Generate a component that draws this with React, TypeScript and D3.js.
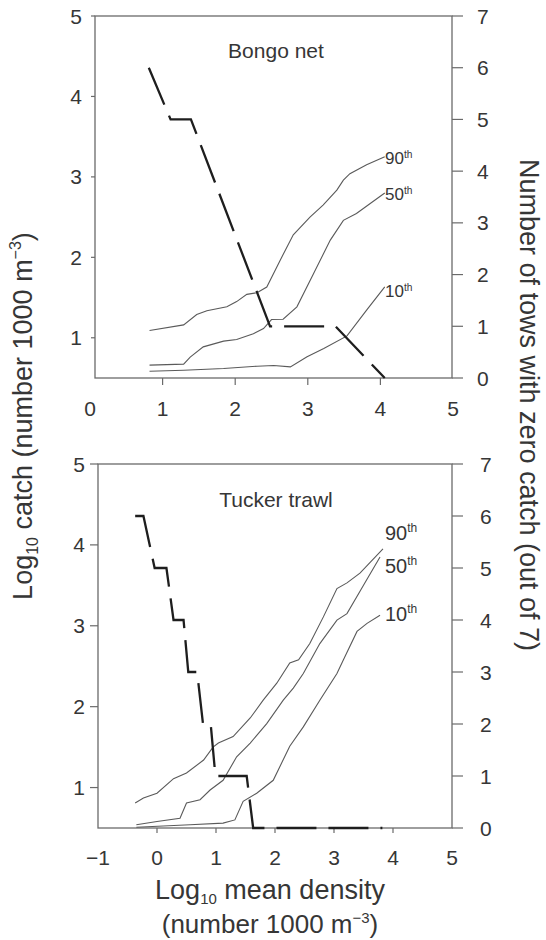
import React from "react";
import * as d3 from "d3";

// ---------- data ----------
// Bongo net panel: x = log10 mean density, y = log10 catch
const bongoP90: [number, number][] = [
  [0.82, 1.09], [1.29, 1.16], [1.47, 1.29], [1.61, 1.335], [1.885, 1.385], [2.02, 1.45],
  [2.16, 1.54], [2.3, 1.56], [2.435, 1.63], [2.62, 1.965], [2.8, 2.28], [3.03, 2.5],
  [3.21, 2.65], [3.4, 2.835], [3.49, 2.96], [3.58, 3.04], [3.81, 3.15], [4.06, 3.25],
];
const bongoP50: [number, number][] = [
  [0.82, 0.66], [1.29, 0.672], [1.38, 0.76], [1.56, 0.887], [1.84, 0.958], [2.02, 0.979],
  [2.25, 1.05], [2.39, 1.115], [2.5, 1.227], [2.66, 1.231], [2.85, 1.385], [3.08, 1.8],
  [3.31, 2.214], [3.49, 2.46], [3.67, 2.546], [3.86, 2.67], [4.06, 2.8],
];
const bongoP10: [number, number][] = [
  [0.82, 0.584], [1.29, 0.597], [1.84, 0.618], [2.3, 0.647], [2.53, 0.655], [2.76, 0.638],
  [2.99, 0.763], [3.22, 0.867], [3.54, 1.023], [3.81, 1.343], [4.06, 1.633],
];
// number of tows with zero catch (right axis)
const bongoZero: [number, number][] = [
  [0.81, 6], [1.11, 5], [1.39, 5], [2.48, 1], [3.38, 1], [4.06, 0],
];

// Tucker trawl panel
const tuckerP90: [number, number][] = [
  [-0.37, 0.81], [-0.23, 0.87], [0.0, 0.93], [0.28, 1.11], [0.5, 1.18], [0.79, 1.34],
  [0.95, 1.5], [1.04, 1.55], [1.29, 1.63], [1.58, 1.86], [1.8, 2.08], [2.03, 2.29],
  [2.25, 2.54], [2.4, 2.58], [2.59, 2.78], [2.82, 3.11], [3.05, 3.46], [3.22, 3.53],
  [3.44, 3.65], [3.83, 3.95],
];
const tuckerP50: [number, number][] = [
  [-0.35, 0.54], [0.0, 0.58], [0.39, 0.62], [0.5, 0.81], [0.73, 0.85], [0.9, 0.97],
  [1.12, 1.09], [1.35, 1.38], [1.58, 1.55], [1.86, 1.79], [2.14, 2.08], [2.31, 2.23],
  [2.48, 2.41], [2.76, 2.78], [3.05, 3.07], [3.22, 3.15], [3.5, 3.5], [3.78, 3.85],
];
const tuckerP10: [number, number][] = [
  [-0.35, 0.51], [0.56, 0.54], [1.12, 0.56], [1.32, 0.6], [1.46, 0.83], [1.69, 0.93],
  [1.97, 1.09], [2.25, 1.51], [2.48, 1.75], [2.76, 2.08], [3.05, 2.41], [3.16, 2.58],
  [3.39, 2.93], [3.56, 3.03], [3.78, 3.13],
];
const tuckerZero: [number, number][] = [
  [-0.37, 6], [-0.23, 6], [-0.04, 5], [0.16, 5], [0.28, 4], [0.45, 4], [0.53, 3],
  [0.68, 3], [0.78, 2], [0.91, 2], [0.99, 1], [1.52, 1], [1.63, 0], [3.82, 0],
];

// tick labels
const bongoXTicks = [0, 1, 2, 3, 4, 5];
const tuckerXTicks = [-1, 0, 1, 2, 3, 4, 5];
const leftTicks = [1, 2, 3, 4, 5];
const rightTicks = [0, 1, 2, 3, 4, 5, 6, 7];
const percentileLabels = ["90", "50", "10"];
const panelTitles = ["Bongo net", "Tucker trawl"];

const FONT = "'Liberation Sans', Arial, Helvetica, sans-serif";
const TEXT = "#363636";
const AXIS = "#6a6a6a";
const CURVE = "#5a5a5a";

type PanelProps = {
  title: string;
  xDomain: [number, number];
  xRange: [number, number];
  frame: { left: number; right: number; top: number; bottom: number };
  xTicks: number[];
  xTickMarks: number[];
  curves: [number, number][][];
  zero: [number, number][];
  labelBaselines: number[];
  labelX: number;
  labelSize: number;
  titleY: number;
  leftTickLen: number;
  xTickLen: number;
  leftLabelGap: number;
  rightLabelGap: number;
  xLabelDrop: number;
};

function Panel(p: PanelProps) {
  const { frame } = p;
  const x = d3.scaleLinear().domain(p.xDomain).range(p.xRange);
  const yL = d3.scaleLinear().domain([0.5, 5]).range([frame.bottom, frame.top]);
  const yR = d3.scaleLinear().domain([0, 7]).range([frame.bottom, frame.top]);
  const lineL = d3
    .line<[number, number]>()
    .x((d) => x(d[0]))
    .y((d) => yL(d[1]));
  const lineR = d3
    .line<[number, number]>()
    .x((d) => x(d[0]))
    .y((d) => yR(d[1]));
  const fmt = (v: number) => (v < 0 ? "\u2212" + Math.abs(v) : String(v));

  return (
    <g fontFamily={FONT}>
      {/* frame */}
      <rect
        x={frame.left}
        y={frame.top}
        width={frame.right - frame.left}
        height={frame.bottom - frame.top}
        fill="none"
        stroke={AXIS}
        strokeWidth={1.3}
      />
      {/* left ticks + labels */}
      {leftTicks.map((t) => (
        <g key={"l" + t}>
          <line x1={frame.left - p.leftTickLen} x2={frame.left} y1={yL(t)} y2={yL(t)} stroke={AXIS} strokeWidth={1.2} />
          <text x={frame.left - p.leftLabelGap} y={yL(t)} dy="0.36em" textAnchor="end" fontSize={21} fill={TEXT}>
            {t}
          </text>
        </g>
      ))}
      {/* right ticks + labels */}
      {rightTicks.map((t) => (
        <g key={"r" + t}>
          <line x1={frame.right} x2={frame.right + 11} y1={yR(t)} y2={yR(t)} stroke={AXIS} strokeWidth={1.2} />
          <text x={frame.right + p.rightLabelGap} y={yR(t)} dy="0.36em" textAnchor="start" fontSize={21} fill={TEXT}>
            {t}
          </text>
        </g>
      ))}
      {/* x ticks + labels */}
      {p.xTickMarks.map((t) => (
        <line key={"xm" + t} x1={x(t)} x2={x(t)} y1={frame.bottom} y2={frame.bottom + p.xTickLen} stroke={AXIS} strokeWidth={1.2} />
      ))}
      {p.xTicks.map((t) => (
        <text key={"xl" + t} x={x(t)} y={frame.bottom + p.xLabelDrop} textAnchor="middle" fontSize={21} fill={TEXT}>
          {fmt(t)}
        </text>
      ))}
      {/* title */}
      <text x={276} y={p.titleY} textAnchor="middle" fontSize={21} fill={TEXT}>
        {p.title}
      </text>
      {/* percentile curves */}
      {p.curves.map((c, i) => (
        <path key={"c" + i} d={lineL(c) || ""} fill="none" stroke={CURVE} strokeWidth={1.1} />
      ))}
      {percentileLabels.map((lab, i) => (
        <text key={"pl" + i} x={p.labelX} y={p.labelBaselines[i]} fontSize={p.labelSize} fill={TEXT}>
          <tspan>{lab}</tspan>
          <tspan fontSize={p.labelSize * 0.6} dy={-p.labelSize * 0.38}>
            th
          </tspan>
        </text>
      ))}
      {/* zero-catch tows, dashed */}
      <path d={lineR(p.zero) || ""} fill="none" stroke="#1e1e1e" strokeWidth={2.3} strokeDasharray="40 12" />
    </g>
  );
}

export default function App() {
  return (
    <svg
      width={546}
      height={940}
      viewBox="0 0 546 940"
      style={{ position: "absolute", left: 0, top: 0, background: "#fff" }}
    >
      <rect x={0} y={0} width={546} height={940} fill="#fff" />
      <Panel
        title={panelTitles[0]}
        xDomain={[0, 5]}
        xRange={[90, 453]}
        frame={{ left: 95, right: 452, top: 16, bottom: 378 }}
        xTicks={bongoXTicks}
        xTickMarks={[1, 2, 3, 4]}
        curves={[bongoP90, bongoP50, bongoP10]}
        zero={bongoZero}
        labelBaselines={[164, 200, 297]}
        labelX={385}
        labelSize={17}
        titleY={58}
        leftTickLen={4}
        xTickLen={7}
        leftLabelGap={13}
        rightLabelGap={25}
        xLabelDrop={38}
      />
      <Panel
        title={panelTitles[1]}
        xDomain={[-1, 5]}
        xRange={[98, 452]}
        frame={{ left: 98, right: 452, top: 464, bottom: 828 }}
        xTicks={tuckerXTicks}
        xTickMarks={[0, 1, 2, 3, 4]}
        curves={[tuckerP90, tuckerP50, tuckerP10]}
        zero={tuckerZero}
        labelBaselines={[540, 573, 621]}
        labelX={385}
        labelSize={20}
        titleY={507}
        leftTickLen={8}
        xTickLen={5}
        leftLabelGap={13}
        rightLabelGap={28}
        xLabelDrop={37}
      />
      {/* shared left axis title */}
      <text
        transform="translate(32,416) rotate(-90)"
        textAnchor="middle"
        fontFamily={FONT}
        fontSize={27}
        fill={TEXT}
      >
        <tspan>Log</tspan>
        <tspan fontSize={16} dy={6}>10</tspan>
        <tspan dy={-6}> catch (number 1000 m</tspan>
        <tspan fontSize={16} dy={-11}>{"\u22123"}</tspan>
        <tspan dy={11}>)</tspan>
      </text>
      {/* shared right axis title */}
      <text
        transform="translate(520,405) rotate(90)"
        textAnchor="middle"
        fontFamily={FONT}
        fontSize={27}
        fill={TEXT}
      >
        Number of tows with zero catch (out of 7)
      </text>
      {/* x axis title */}
      <text x={270} y={899} textAnchor="middle" fontFamily={FONT} fontSize={27} fill={TEXT}>
        <tspan>Log</tspan>
        <tspan fontSize={15} dy={5}>10</tspan>
        <tspan dy={-5}> mean density</tspan>
      </text>
      <text x={270} y={933} textAnchor="middle" fontFamily={FONT} fontSize={26} fill={TEXT}>
        <tspan>(number 1000 m</tspan>
        <tspan fontSize={15} dy={-10}>{"\u22123"}</tspan>
        <tspan dy={10}>)</tspan>
      </text>
    </svg>
  );
}
